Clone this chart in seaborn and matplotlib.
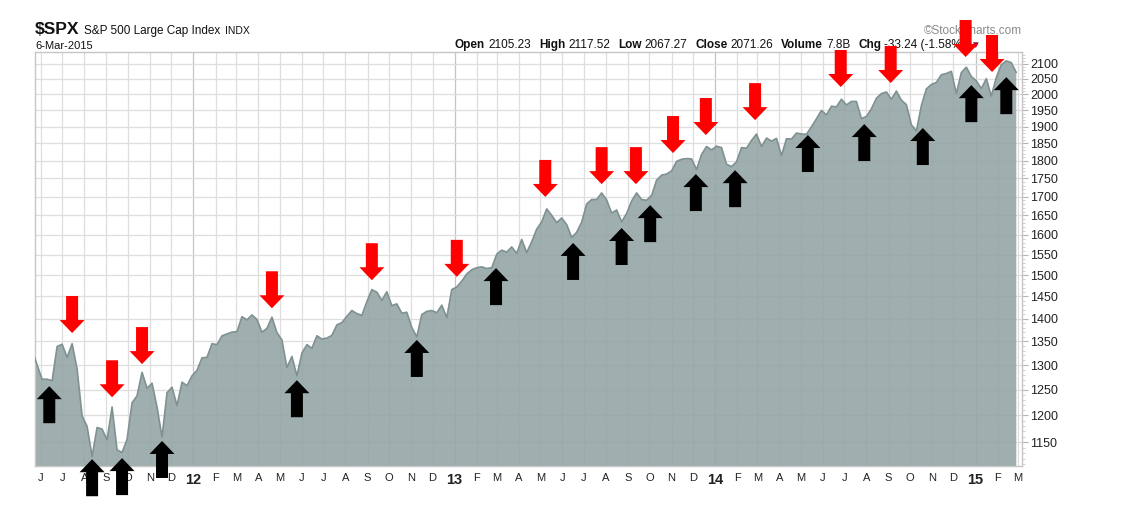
import numpy as np
import pandas as pd
import matplotlib
matplotlib.use("Agg")
import matplotlib.pyplot as plt
import matplotlib.dates as mdates
import matplotlib.ticker as mticker
from matplotlib import transforms
from matplotlib.patches import Polygon
import seaborn as sns

# ---------------- data (weekly closes) ----------------
first_week = "2011-05-20"
closes_2011 = [1331, 1300, 1271, 1271, 1268, 1339, 1344, 1316, 1345, 1292, 1199, 1179, 1124, 1177,
               1174, 1154, 1216, 1136, 1131, 1155, 1224, 1238, 1285, 1253, 1263, 1216, 1159, 1244,
               1255, 1219, 1265, 1258]
closes_2012 = [1278, 1289, 1315, 1316, 1345, 1343, 1362, 1366, 1370, 1371, 1404, 1397, 1408, 1398,
               1370, 1378, 1403, 1369, 1353, 1295, 1318, 1278, 1325, 1343, 1335, 1362, 1355, 1357,
               1363, 1386, 1391, 1405, 1418, 1411, 1407, 1438, 1466, 1460, 1441, 1461, 1429, 1433,
               1412, 1414, 1380, 1360, 1409, 1416, 1418, 1413, 1430, 1402]
closes_2013 = [1466, 1472, 1486, 1503, 1513, 1518, 1520, 1516, 1518, 1551, 1561, 1556, 1569, 1553,
               1588, 1555, 1582, 1614, 1633, 1667, 1650, 1631, 1643, 1626, 1593, 1606, 1632, 1680,
               1692, 1692, 1710, 1691, 1656, 1664, 1633, 1655, 1688, 1710, 1692, 1690, 1703, 1745,
               1759, 1762, 1771, 1798, 1804, 1806, 1805, 1775, 1818, 1841]
closes_2014 = [1831, 1842, 1838, 1790, 1783, 1797, 1838, 1836, 1859, 1878, 1841, 1866, 1857, 1865,
               1815, 1864, 1863, 1881, 1878, 1877, 1900, 1924, 1950, 1936, 1963, 1961, 1985, 1967,
               1978, 1978, 1925, 1931, 1955, 1988, 2003, 2008, 1985, 2011, 1982, 1968, 1906, 1887,
               1965, 2018, 2032, 2039, 2064, 2068, 2075, 2003, 2071, 2089]
closes_2015 = [2058, 2044, 2019, 2051, 1995, 2055, 2097, 2110, 2104, 2071]

# red "down" arrows (tip position) and black "up" arrows (tip position)
red_dates = ["2011-07-15", "2011-09-09", "2011-10-21", "2012-04-20", "2012-09-07", "2013-01-04",
             "2013-05-08", "2013-07-26", "2013-09-12", "2013-11-03", "2013-12-19", "2014-02-26",
             "2014-06-26", "2014-09-04", "2014-12-18", "2015-01-24"]
red_values = [1368, 1235, 1302, 1423, 1488, 1496, 1699, 1734, 1734, 1822, 1875, 1920,
              2024, 2037, 2123, 2073]
black_dates = ["2011-06-13", "2011-08-12", "2011-09-23", "2011-11-18", "2012-05-25", "2012-11-09",
               "2013-02-28", "2013-06-16", "2013-08-23", "2013-10-02", "2013-12-05", "2014-01-29",
               "2014-05-11", "2014-07-29", "2014-10-19", "2014-12-26", "2015-02-13"]
black_values = [1257, 1119, 1121, 1152, 1269, 1353, 1517, 1579, 1617, 1677, 1762, 1773,
                1875, 1908, 1896, 2030, 2056]

y_ticks = list(range(1150, 2101, 50))
month_starts = pd.date_range("2011-06-01", "2015-03-01", freq="MS")
month_letters = ["J", "F", "M", "A", "M", "J", "J", "A", "S", "O", "N", "D"]

header_left = ("$SPX", "S&P 500 Large Cap Index", "INDX", "6-Mar-2015")
quote_fields = [("Open", "2105.23"), ("High", "2117.52"), ("Low", "2067.27"),
                ("Close", "2071.26"), ("Volume", "7.8B"), ("Chg", "-33.24 (-1.58%)")]

# ---------------- figure ----------------
sns.set_theme(style="white")
plt.rcParams["font.family"] = ["Liberation Sans", "DejaVu Sans"]

W, H = 1141, 527
fig = plt.figure(figsize=(W / 100, H / 100), dpi=100)
fig.patch.set_facecolor("white")
ax = fig.add_axes([35 / W, 1 - 466 / H, (1022 - 35) / W, (466 - 52) / H])
ax.set_facecolor("white")

closes = closes_2011 + closes_2012 + closes_2013 + closes_2014 + closes_2015
df = pd.DataFrame({"date": pd.date_range(first_week, periods=len(closes), freq="W-FRI"),
                   "close": closes})

ax.set_yscale("log")
ax.set_ylim(1107, 2140)
ax.set_xlim(pd.Timestamp("2011-05-24"), pd.Timestamp("2015-03-07"))

ax.fill_between(df["date"], df["close"], 900, color="#95a5a5", alpha=0.9, lw=0, zorder=2)
sns.lineplot(data=df, x="date", y="close", ax=ax, color="#7f9191", lw=1.2, zorder=3)
ax.set_xlabel("")
ax.set_ylabel("")

# grid
ax.set_xticks(month_starts)
labels = [f"{d.year % 100:02d}" if d.month == 1 else month_letters[d.month - 1] for d in month_starts]
ax.set_xticklabels(labels)
for lab, d in zip(ax.get_xticklabels(), month_starts):
    if d.month == 1:
        lab.set_fontweight("bold")
        lab.set_fontsize(10.5)
    else:
        lab.set_fontsize(8)
    lab.set_color("#222222")
ax.xaxis.set_minor_locator(mdates.WeekdayLocator(byweekday=mdates.MO))
ax.tick_params(axis="x", which="major", length=3, pad=2, color="#b5b5b5", width=0.8)
ax.tick_params(axis="x", which="minor", length=2, color="#c0c0c0", width=0.6)

ax.yaxis.tick_right()
ax.yaxis.set_major_locator(mticker.FixedLocator(y_ticks))
ax.yaxis.set_major_formatter(mticker.FixedFormatter([str(v) for v in y_ticks]))
ax.yaxis.set_minor_locator(mticker.FixedLocator(list(range(1110, 2140, 10))))
ax.yaxis.set_minor_formatter(mticker.NullFormatter())
ax.tick_params(axis="y", which="major", length=4, pad=2, color="#b5b5b5", width=0.8,
               labelsize=9, labelcolor="#222222")
ax.tick_params(axis="y", which="minor", length=2, color="#c8c8c8", width=0.6)

ax.grid(True, which="major", axis="both", color="#dedede", lw=0.9, zorder=1)
for gl, d in zip(ax.xaxis.get_gridlines(), month_starts):
    if d.month == 1:
        gl.set_color("#c4c4c4")
ax.set_axisbelow(True)
for s in ax.spines.values():
    s.set_color("#c6c6c6")
    s.set_linewidth(1.0)

# arrows
L, HL, HW, SW = 37, 13, 12.5, 6


def add_arrow(date, value, color, up):
    sign = -1 if up else 1
    verts = np.array([(0, 0), (HW, sign * HL), (SW, sign * HL), (SW, sign * L),
                      (-SW, sign * L), (-SW, sign * HL), (-HW, sign * HL)], dtype=float) / 100.0
    trans = fig.dpi_scale_trans + transforms.ScaledTranslation(
        mdates.date2num(pd.Timestamp(date)), value, ax.transData)
    poly = Polygon(verts, closed=True, transform=trans, facecolor=color, edgecolor="none",
                   zorder=20, clip_on=False)
    fig.add_artist(poly)


for d, v in zip(red_dates, red_values):
    add_arrow(d, v, "#ff0000", up=False)
for d, v in zip(black_dates, black_values):
    add_arrow(d, v, "#000000", up=True)

# header
renderer = fig.canvas.get_renderer()


def put(x_px, y_px, txt, **kw):
    t = fig.text(x_px / W, 1 - y_px / H, txt, va="center", ha="left", **kw)
    return t, t.get_window_extent(renderer).width


x = 35
t, w = put(x, 30, header_left[0], fontsize=12.5, fontweight="bold", color="#111111")
x += w + 4
t, w = put(x, 31, header_left[1], fontsize=8.5, color="#111111")
x += w + 5
put(x, 31, header_left[2], fontsize=7.5, color="#111111")
put(35, 46, header_left[3], fontsize=8, color="#111111")

fig.text(1022 / W, 1 - 31 / H, "\u00a9StockCharts.com", ha="right", va="center",
         fontsize=8.5, color="#8a8a8a")

x = 455
for name, val in quote_fields:
    t, w = put(x, 45, name, fontsize=8.5, fontweight="bold", color="#111111")
    x += w + 3
    t, w = put(x, 45, val, fontsize=8.5, color="#111111")
    x += w + 8
put(x - 4, 45, "\u25bc", fontsize=7, color="#8b1030")

fig.savefig("out.png", dpi=100, facecolor="white")
